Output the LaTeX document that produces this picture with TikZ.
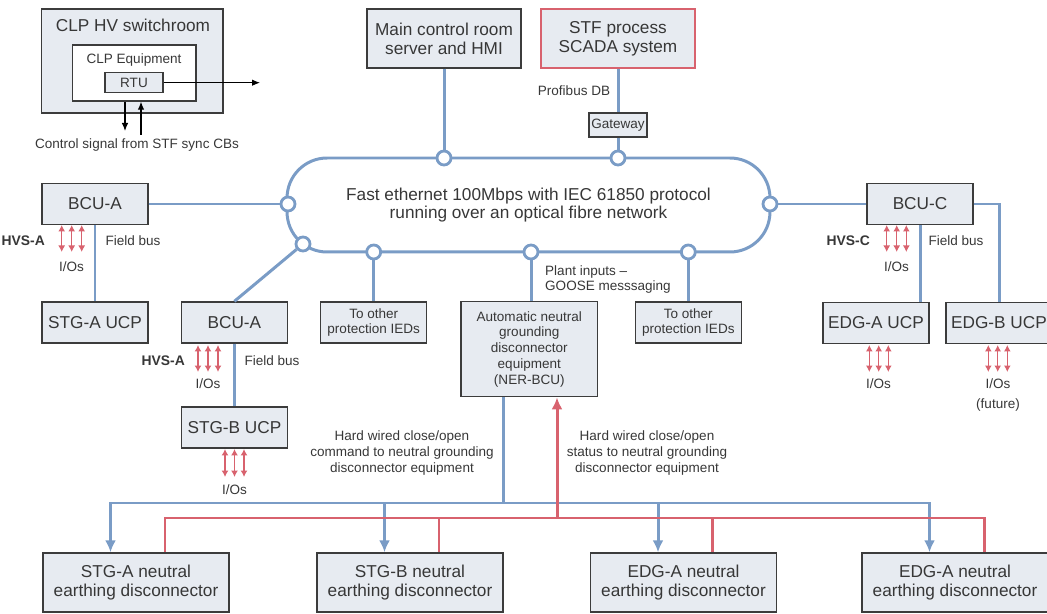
\documentclass[tikz,border=0pt]{standalone}
\usepackage{fontspec}
\setmainfont{Liberation Sans}
\usetikzlibrary{arrows.meta,positioning}

\definecolor{linkblue}{RGB}{122,156,198}
\definecolor{wirered}{RGB}{216,98,110}
\definecolor{boxgray}{RGB}{231,235,241}
\definecolor{edgegray}{RGB}{60,60,60}
\definecolor{txtgray}{RGB}{55,55,55}

\begin{document}
\begin{tikzpicture}[x=0.02cm, y=-0.02cm,
    every node/.style={text=txtgray, font=\fontsize{7.7}{9}\selectfont, align=center},
    big/.style={font=\fontsize{9.8}{10.7}\selectfont},
    box/.style={draw=edgegray, fill=boxgray, line width=0.8pt, inner sep=1pt},
    ucp/.style={box, big, minimum width=2.12cm, minimum height=0.82cm},
    ied/.style={box, minimum width=2.12cm, minimum height=0.82cm},
    ned/.style={box, big, minimum width=3.72cm, minimum height=1.18cm},
    link/.style={draw=linkblue, line width=1.7pt},
    hw/.style={draw=wirered, line width=1.7pt},
    jn/.style={circle, draw=linkblue, fill=white, line width=1.6pt, minimum size=0.28cm, inner sep=0pt},
    io/.style={draw=wirered, line width=0.85pt, {Latex[length=1.3mm,width=1.4mm]}-{Latex[length=1.3mm,width=1.4mm]}},
    sig/.style={draw=black, line width=0.6pt, -{Latex[length=1.6mm,width=1.3mm]}},
    tip/.style={-{Latex[length=2.4mm,width=2.2mm]}},
  ]
  \useasboundingbox (0,0) rectangle (1047,614);

  % CLP switchroom
  \node[box, minimum width=3.63cm, minimum height=2.08cm] (sw) at (132.4,61) {};
  \node[big] (swname) at (133,25) {CLP HV switchroom};
  \node[box, fill=white, minimum width=2.47cm, minimum height=1.12cm] (equip) at (134.3,73) {};
  \node (equipname) at (134,60) {CLP Equipment};
  \node[box, minimum width=1.16cm, minimum height=0.4cm] (rtu) at (134,82.7) {RTU};
  \coordinate (rtuout) at (260,82.7);
  \draw[sig] (rtu.east) -- (rtuout);
  \node (ctrl) at (137,145) {Control signal from STF sync CBs};
  \coordinate (cbdown) at (125,131);
  \coordinate (cbup) at (141,135);
  \draw[sig] (cbdown |- equip.south) -- (cbdown);
  \draw[sig] (cbup) -- (cbup |- equip.south);

  % control room and SCADA
  \node[box, big, minimum width=3.08cm, minimum height=1.18cm] (mcr) at (444,38.5) {Main control room\\server and HMI};
  \node[box, big, draw=wirered, line width=1.2pt, minimum width=3.08cm, minimum height=1.18cm] (scada) at (618,38.5) {STF process\\SCADA system};
  \node[box, minimum width=1.16cm, minimum height=0.48cm] (gw) at (618,125) {Gateway};
  \node (profibus) at (574,91) {Profibus DB};

  % optical ring
  \node[link, big, rounded corners=0.8cm, minimum width=9.66cm, minimum height=1.88cm] (ring) at (528.5,205)
    {Fast ethernet 100Mbps with IEC 61850 protocol\\running over an optical fibre network};
  \node[jn] (j1) at (444,158) {};
  \node[jn] (j2) at (618,158) {};
  \node[jn] (j3) at (288,204) {};
  \node[jn] (j4) at (303,244) {};
  \node[jn] (j5) at (373.7,252) {};
  \node[jn] (j6) at (531,252) {};
  \node[jn] (j7) at (688.3,252) {};
  \node[jn] (j8) at (770,204) {};

  % bay units
  \node[ucp] (bcua) at (95,204) {BCU-A};
  \node[ucp] (stga) at (95,322.5) {STG-A UCP};
  \node[ucp] (bcub) at (234.4,322.5) {BCU-A};
  \node[ucp] (stgb) at (234.4,427.5) {STG-B UCP};
  \node[ied] (ieda) at (373.7,322.5) {To other\\protection IEDs};
  \node[box, minimum width=2.74cm, minimum height=1.9cm] (ner) at (529.3,349.2)
    {Automatic neutral\\grounding\\disconnector\\equipment\\(NER-BCU)};
  \node[ied] (iedb) at (688.3,322.5) {To other\\protection IEDs};
  \node[ucp] (bcuc) at (920,204) {BCU-C};
  \node[ucp] (edga) at (876,322.8) {EDG-A UCP};
  \node[ucp] (edgb) at (999,322.8) {EDG-B UCP};

  \draw[link] (mcr) -- (j1);
  \draw[link] (scada) -- (gw);
  \draw[link] (gw) -- (j2);
  \draw[link] (bcua) -- (j3);
  \draw[link] (j4) -- (bcub.north);
  \draw[link] (j5) -- (ieda);
  \draw[link] (j6) -- (j6 |- ner.north);
  \draw[link] (j7) -- (iedb);
  \draw[link] (j8) -- (bcuc);
  \draw[link] (bcua) -- (stga);
  \draw[link] (bcub) -- (stgb);
  \draw[link] (bcuc.south) -- (bcuc.south |- edga.north);
  \draw[link] (bcuc.east) -| (edgb.north);

  \node (fba) at (133,241) {Field bus};
  \node (fbb) at (272,361) {Field bus};
  \node (fbc) at (956,241) {Field bus};
  \node (goose) [anchor=west, align=left] at (539,279.5) {Plant inputs --\\GOOSE messsaging};

  % I/Os
  \foreach \x in {61.7,71.7,81.7} \draw[io] (\x,225) -- (\x,252);
  \foreach \x in {198,208,218} \draw[io] (\x,345) -- (\x,372);
  \foreach \x in {225,234.5,244} \draw[io] (\x,449) -- (\x,477);
  \foreach \x in {886.7,896.7,906.3} \draw[io] (\x,225) -- (\x,252);
  \foreach \x in {869.3,878.7,888.3} \draw[io] (\x,345) -- (\x,372);
  \foreach \x in {988.3,997.7,1007.3} \draw[io] (\x,345) -- (\x,372);
  \node[anchor=east, font=\fontsize{7.9}{9}\bfseries] (hvsa) at (51,240.5) {HVS-A};
  \node[anchor=east, font=\fontsize{7.9}{9}\bfseries] (hvsb) at (191,360.5) {HVS-A};
  \node[anchor=east, font=\fontsize{7.9}{9}\bfseries] (hvsc) at (876,240.5) {HVS-C};
  \node (ioa) at (71.5,267) {I/Os};
  \node (iob) at (208,384) {I/Os};
  \node (ioc) at (234.5,490) {I/Os};
  \node (iod) at (896.5,267) {I/Os};
  \node (ioe) at (878.5,384) {I/Os};
  \node (iof) at (998,384) {I/Os};
  \node (fut) at (998,405) {(future)};

  % hard wired links
  \node (cmdtxt) at (402,453) {Hard wired close/open\\command to neutral grounding\\disconnector equipment};
  \node (stattxt) at (647,453) {Hard wired close/open\\status to neutral grounding\\disconnector equipment};

  \node[ned] (dsa) at (136,582.5) {STG-A neutral\\earthing disconnector};
  \node[ned] (dsb) at (410,582.5) {STG-B neutral\\earthing disconnector};
  \node[ned] (dea) at (683.5,582.5) {EDG-A neutral\\earthing disconnector};
  \node[ned] (deb) at (955,582.5) {EDG-A neutral\\earthing disconnector};

  \coordinate (cmdbus) at (503,503);
  \coordinate (statbus) at (557,518);
  \draw[link] (ner.south -| cmdbus) -- (cmdbus);
  \foreach \d in {dsa,dsb,dea,deb}
    \draw[link, tip] (cmdbus) -| ([xshift=-0.51cm]\d.north);
  \foreach \d in {dsa,dsb,dea,deb}
    \draw[hw] (statbus) -| ([xshift=0.58cm]\d.north);
  \draw[hw, tip] (statbus) -- (statbus |- ner.south);
\end{tikzpicture}
\end{document}
